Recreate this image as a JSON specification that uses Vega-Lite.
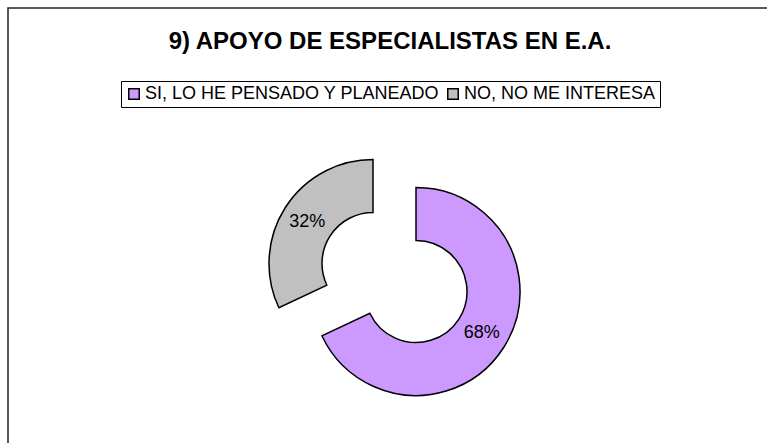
{
  "$schema": "https://vega.github.io/schema/vega-lite/v6.json",
  "width": 764,
  "height": 440,
  "autosize": {"type": "none"},
  "padding": {"left": 8, "top": 8, "right": -5, "bottom": -5},
  "background": "white",
  "view": {"stroke": "#222", "strokeWidth": 1.5},
  "config": {
    "view": {"stroke": "#222", "strokeWidth": 1.5},
    "font": "Liberation Sans"
  },
  "title": {
    "text": "9) APOYO DE ESPECIALISTAS EN E.A.",
    "fontSize": 24,
    "fontWeight": "bold",
    "color": "#000",
    "anchor": "middle",
    "frame": "group",
    "offset": -46
  },
  "data": {
    "values": [
      {"category": "SI, LO HE PENSADO Y PLANEADO", "value": 68, "pct": "68%", "order": 1},
      {"category": "NO, NO ME INTERESA", "value": 32, "pct": "32%", "order": 2}
    ]
  },
  "encoding": {
    "theta": {"field": "value", "type": "quantitative", "stack": true},
    "order": {"field": "order", "type": "quantitative"}
  },
  "layer": [
    {
      "mark": {"type": "arc", "outerRadius": 104, "innerRadius": 51, "stroke": "#000", "strokeWidth": 1.5, "xOffset": 26, "yOffset": 63.5},
      "encoding": {
        "fill": {
          "field": "category",
          "type": "nominal",
          "scale": {"domain": ["SI, LO HE PENSADO Y PLANEADO", "NO, NO ME INTERESA"], "range": ["#CC99FF", "#C0C0C0"]},
          "legend": {
            "orient": "none",
            "legendX": 113,
            "legendY": 73,
            "direction": "horizontal",
            "title": null,
            "strokeColor": "#000",
            "fillColor": "white",
            "padding": 4,
            "symbolType": "square",
            "symbolSize": 110,
            "symbolStrokeColor": "#000",
            "symbolStrokeWidth": 1.5,
            "labelFontSize": 18,
            "labelColor": "#000",
            "labelFont": "Liberation Sans",
            "columnPadding": 4,
            "labelOffset": 2,
            "labelLimit": 400
          }
        },
        "opacity": {"condition": {"test": "datum.order === 1", "value": 1}, "value": 0}
      }
    },
    {
      "mark": {"type": "text", "radius": 78, "fontSize": 18, "color": "#000", "xOffset": 26, "yOffset": 63.5},
      "encoding": {
        "text": {"field": "pct"},
        "opacity": {"condition": {"test": "datum.order === 1", "value": 1}, "value": 0}
      }
    },
    {
      "mark": {"type": "arc", "outerRadius": 104, "innerRadius": 51, "stroke": "#000", "strokeWidth": 1.5, "xOffset": -17, "yOffset": 35.5},
      "encoding": {
        "fill": {"field": "category", "type": "nominal"},
        "opacity": {"condition": {"test": "datum.order === 2", "value": 1}, "value": 0}
      }
    },
    {
      "mark": {"type": "text", "radius": 78, "fontSize": 18, "color": "#000", "xOffset": -17, "yOffset": 35.5},
      "encoding": {
        "text": {"field": "pct"},
        "opacity": {"condition": {"test": "datum.order === 2", "value": 1}, "value": 0}
      }
    }
  ]
}
